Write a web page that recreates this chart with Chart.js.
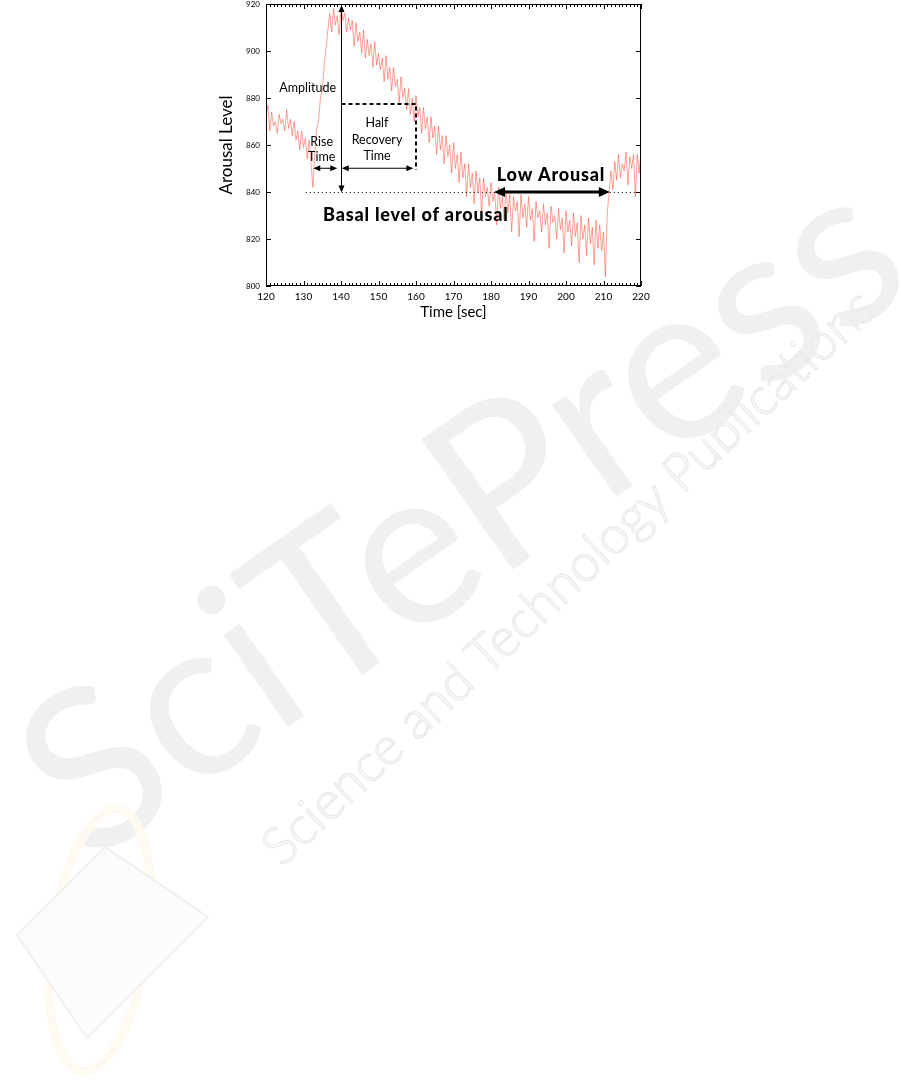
<!DOCTYPE html>
<html>
<head>
<meta charset="utf-8">
<script src="https://cdn.jsdelivr.net/npm/chart.js@4.4.1/dist/chart.umd.min.js"></script>
<style>
  html, body { margin: 0; padding: 0; background: #fff; }
  body { width: 901px; height: 1088px; position: relative; overflow: hidden; }
  .wm { position: absolute; white-space: nowrap; font-family: Lato, "Open Sans", sans-serif; transform-origin: center center; }
  #wm1 { left: 455px; top: 505px; font-size: 222px; font-weight: 400; color: #f0f0f0; transform: translate(-50%, -50%) rotate(-35deg); }
  #wm2 { left: 567px; top: 575px; font-size: 52px; font-weight: 300; color: transparent; -webkit-text-stroke: 1.5px #ececec; transform: translate(-50%, -50%) rotate(-43deg); }
  #logo { position: absolute; left: 0; top: 780px; }
  #wrap { position: absolute; left: 0; top: 0; width: 901px; height: 330px; }
</style>
</head>
<body>
<div class="wm" id="wm1">SciTePress</div>
<div class="wm" id="wm2">Science and Technology Publications</div>
<svg id="logo" width="300" height="308">
  <ellipse cx="100" cy="160" rx="48" ry="132" transform="rotate(8 100 160)" fill="none" stroke="#fefaf1" stroke-width="9"/>
  <polygon points="105,67 208,137 87,258 17,155" fill="#fcfcfc" stroke="#f0f0f0" stroke-width="2"/>
</svg>
<div id="wrap"><canvas id="chart"></canvas></div>
<script>
/* ================= DATA ================= */
// arousal samples, every 0.5 s from 120 s to 220 s
const startTime = 120;
const sampleStep = 0.5;
const arousal = [
  872, 877, 866, 874, 868, 870, 865, 873, 869, 871, 866, 875, 867, 871, 864, 870, 862, 866, 858, 866,
  859, 863, 854, 862, 852, 842, 857, 867, 870, 880, 883, 894, 901, 909, 916, 908, 918, 911, 915, 907,
  918, 913, 916, 908, 914, 909, 913, 902, 912, 904, 908, 899, 909, 897, 905, 898, 903, 893, 904, 894,
  899, 892, 897, 887, 898, 888, 893, 883, 893, 885, 888, 878, 889, 880, 884, 875, 884, 873, 880, 870,
  881, 872, 876, 865, 876, 867, 872, 861, 872, 863, 868, 856, 868, 858, 864, 852, 864, 855, 860, 848,
  861, 850, 856, 844, 857, 846, 852, 838, 852, 842, 848, 835, 849, 840, 846, 831, 846, 838, 842, 834,
  844, 836, 840, 826, 842, 833, 838, 828, 841, 831, 839, 823, 838, 832, 836, 821, 839, 829, 835, 825,
  838, 828, 833, 819, 836, 829, 832, 823, 835, 826, 831, 816, 834, 827, 830, 820, 833, 824, 829, 814,
  832, 823, 828, 817, 831, 821, 827, 810, 830, 820, 826, 813, 829, 818, 825, 809, 828, 816, 826, 815,
  823, 804, 831, 840, 849, 841, 853, 845, 856, 846, 852, 849, 857, 843, 855, 850, 856, 838, 856, 848,
  858
];
const timeTicks = [120, 130, 140, 150, 160, 170, 180, 190, 200, 210, 220];
const levelTicks = [800, 820, 840, 860, 880, 900, 920];
const basalLevel = 840;
const peakTime = 140;
const halfRecoveryTime = 160;
const halfRecoveryLevel = 877.5;

const points = arousal.map((v, i) => ({ x: startTime + i * sampleStep, y: v }));

/* ================= HELPERS ================= */
function arrowHead(ctx, x, y, angle, len, half) {
  ctx.save();
  ctx.translate(x, y);
  ctx.rotate(angle);
  ctx.beginPath();
  ctx.moveTo(0, 0);
  ctx.lineTo(-len, -half);
  ctx.lineTo(-len, half);
  ctx.closePath();
  ctx.fill();
  ctx.restore();
}

function hArrow(ctx, x1, x2, y, lw, len, half) {
  ctx.lineWidth = lw;
  ctx.beginPath();
  ctx.moveTo(x1 + len * 0.8, y);
  ctx.lineTo(x2 - len * 0.8, y);
  ctx.stroke();
  arrowHead(ctx, x2, y, 0, len, half);
  arrowHead(ctx, x1, y, Math.PI, len, half);
}

/* ================= FRAME + ANNOTATIONS ================= */
const annotate = {
  id: 'annotate',
  afterDatasetsDraw(chart) {
    const { ctx, chartArea: a, scales: { x, y } } = chart;
    ctx.save();
    ctx.strokeStyle = '#000';
    ctx.fillStyle = '#000';

    // box
    ctx.lineWidth = 1;
    ctx.strokeRect(a.left + 0.5, a.top + 0.5, a.right - a.left - 1, a.bottom - a.top - 1);

    // minor + major ticks, pointing inwards
    ctx.beginPath();
    for (let t = startTime; t <= 220; t += 1) {
      const px = Math.round(x.getPixelForValue(t)) + 0.5;
      const l = timeTicks.includes(t) ? 5 : 3;
      ctx.moveTo(px, a.bottom); ctx.lineTo(px, a.bottom - l);
      ctx.moveTo(px, a.top); ctx.lineTo(px, a.top + l);
    }
    levelTicks.forEach(v => {
      const py = Math.round(y.getPixelForValue(v)) + 0.5;
      ctx.moveTo(a.left, py); ctx.lineTo(a.left + 5, py);
      ctx.moveTo(a.right, py); ctx.lineTo(a.right - 5, py);
    });
    ctx.stroke();

    // basal level dotted line
    const yb = Math.round(y.getPixelForValue(basalLevel)) + 0.5;
    ctx.setLineDash([1, 3]);
    ctx.beginPath();
    ctx.moveTo(x.getPixelForValue(130.6), yb);
    ctx.lineTo(a.right, yb);
    ctx.stroke();
    ctx.setLineDash([]);

    // amplitude arrow
    const xp = Math.round(x.getPixelForValue(peakTime)) + 0.5;
    const yTop = y.getPixelForValue(920);
    ctx.lineWidth = 1;
    ctx.beginPath();
    ctx.moveTo(xp, yTop + 5);
    ctx.lineTo(xp, yb - 5);
    ctx.stroke();
    arrowHead(ctx, xp, yTop + 1, -Math.PI / 2, 7, 3);
    arrowHead(ctx, xp, yb, Math.PI / 2, 7, 3);

    // half recovery dashed box
    const yh = y.getPixelForValue(halfRecoveryLevel);
    const xh = x.getPixelForValue(halfRecoveryTime);
    ctx.lineWidth = 2;
    ctx.setLineDash([4, 3]);
    ctx.beginPath();
    ctx.moveTo(xp, yh);
    ctx.lineTo(xh, yh);
    ctx.lineTo(xh, y.getPixelForValue(849.4));
    ctx.stroke();
    ctx.setLineDash([]);

    // rise / recovery arrows
    const ya = y.getPixelForValue(850.1);
    hArrow(ctx, x.getPixelForValue(132.6), x.getPixelForValue(139.0), ya, 1, 7, 3);
    hArrow(ctx, x.getPixelForValue(140.2), x.getPixelForValue(159.3), ya, 1, 7, 3);

    // low arousal arrow
    hArrow(ctx, x.getPixelForValue(180.8), x.getPixelForValue(211.7), yb - 0.5, 3, 11, 5);

    // labels
    ctx.textAlign = 'center';
    ctx.textBaseline = 'middle';
    ctx.font = '12.5px Lato, "Open Sans", sans-serif';
    const label = (s, tx, ty) => ctx.fillText(s, x.getPixelForValue(tx), y.getPixelForValue(ty));
    label('Amplitude', 131.1, 884.3);
    label('Rise', 134.85, 861.4);
    label('Time', 134.85, 855.0);
    label('Half', 149.6, 869.2);
    label('Recovery', 149.6, 862.1);
    label('Time', 149.6, 855.3);
    ctx.font = '900 18px Lato, "Open Sans", sans-serif';
    ctx.letterSpacing = '0.8px';
    label('Low Arousal', 196.0, 847.2);
    label('Basal level of arousal', 159.96, 830.2);
    ctx.restore();
  }
};

/* ================= CHART ================= */
new Chart(document.getElementById('chart').getContext('2d'), {
  type: 'line',
  data: {
    datasets: [{
      data: points,
      borderColor: 'rgba(255, 45, 25, 0.75)',
      borderWidth: 0.6,
      pointRadius: 0,
      tension: 0,
      fill: false,
    }],
  },
  options: {
    responsive: true,
    maintainAspectRatio: false,
    animation: false,
    events: [],
    layout: { padding: { left: 216, right: 260, top: 4, bottom: 0 } },
    plugins: { legend: { display: false }, tooltip: { enabled: false } },
    scales: {
      x: {
        type: 'linear',
        min: 120,
        max: 220,
        grid: { display: false, drawTicks: false },
        border: { display: false },
        afterBuildTicks: s => { s.ticks = timeTicks.map(v => ({ value: v })); },
        afterFit: s => { s.height = 44; s.paddingLeft = 0; s.paddingRight = 0; },
        ticks: { color: '#000', padding: 5, font: { family: 'Lato', size: 10 }, maxRotation: 0 },
        title: { display: true, text: 'Time [sec]', color: '#000', padding: { top: 0, bottom: 9 }, font: { family: 'Lato', size: 15 } },
      },
      y: {
        min: 800,
        max: 920,
        grid: { display: false, drawTicks: false },
        border: { display: false },
        afterBuildTicks: s => { s.ticks = levelTicks.map(v => ({ value: v })); },
        afterFit: s => { s.width = 50; s.paddingTop = 0; s.paddingBottom = 0; },
        ticks: { color: '#000', padding: 6, font: { family: 'Lato', size: 8 } },
        title: { display: true, text: 'Arousal Level', color: '#000', padding: 0, font: { family: 'Lato', size: 17 } },
      },
    },
  },
  plugins: [annotate],
});
</script>
</body>
</html>
